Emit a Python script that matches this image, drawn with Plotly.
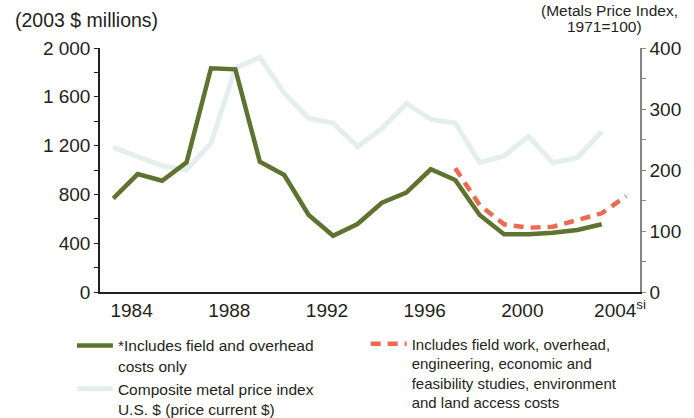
import plotly.graph_objects as go

# ---- data ----
years = list(range(1983, 2004))
field_overhead = [768, 967, 912, 1063, 1834, 1825, 1068, 959, 631, 461, 557,
                  732, 814, 1006, 918, 631, 473, 473, 486, 508, 555]
years_full = list(range(1997, 2005))
full_costs = [1014, 713, 555, 527, 535, 590, 645, 787]
metal_index = [237, 222, 207, 200, 244, 367, 385, 326, 285, 277, 238,
               268, 309, 283, 277, 212, 223, 255, 212, 220, 263]

x_tick_years = [1984, 1988, 1992, 1996, 2000, 2004]
x_tick_text = ["1984", "1988", "1992", "1996", "2000", "2004<sup>si</sup>"]
left_tick_vals = [0, 400, 800, 1200, 1600, 2000]
left_tick_text = ["0", "400", "800", "1 200", "1 600", "2 000"]
right_tick_vals = [0, 100, 200, 300, 400]

name_green = "*Includes field and overhead<br>costs only"
name_light = "Composite metal price index<br>U.S. $ (price current $)"
name_red = ("Includes field work, overhead,<br>engineering, economic and<br>"
            "feasibility studies, environment<br>and land access costs")

FONT = "Liberation Sans, Arial, sans-serif"
TXT = "#231f20"
GREEN = "#5f7330"
LIGHT = "#e3eeed"
RED = "#ec6a4e"

fig = go.Figure()
fig.add_trace(go.Scatter(x=years, y=metal_index, mode="lines", name=name_light,
                         line=dict(color=LIGHT, width=5), yaxis="y",
                         legend="legend", legendrank=2))
fig.add_trace(go.Scatter(x=years, y=field_overhead, mode="lines", name=name_green,
                         line=dict(color=GREEN, width=4.5), yaxis="y2",
                         legend="legend", legendrank=1))
fig.add_trace(go.Scatter(x=years_full, y=full_costs, mode="lines", name=name_red,
                         line=dict(color=RED, width=4.5, dash="10px,7px"),
                         yaxis="y2", legend="legend2"))

tick_offset = 0.25
fig.update_layout(
    width=694, height=418,
    margin=dict(l=100, r=54, t=48, b=126, autoexpand=False),
    paper_bgcolor="white", plot_bgcolor="white",
    font=dict(family=FONT, color=TXT, size=19),
    showlegend=True,
    xaxis=dict(range=[1982.455, 2004.568], showgrid=False, zeroline=False,
               showline=True, linecolor=TXT, linewidth=1.5,
               tickvals=[y - tick_offset for y in x_tick_years], ticktext=x_tick_text,
               ticks="", tickfont=dict(size=19, color=TXT)),
    yaxis=dict(range=[0, 400], side="right", showgrid=False, zeroline=False,
               showline=True, linecolor="#858585", linewidth=1.5,
               tickvals=right_tick_vals, ticks="outside", ticklen=4,
               tickcolor="#858585", tickwidth=1.2,
               minor=dict(dtick=50, ticks="outside", ticklen=4,
                          tickcolor="#858585", tickwidth=1.2),
               tickfont=dict(size=19, color=TXT)),
    yaxis2=dict(range=[0, 2000], side="left", overlaying="y", anchor="x",
                showgrid=False, zeroline=False,
                showline=True, linecolor=TXT, linewidth=1.5,
                tickvals=left_tick_vals, ticktext=left_tick_text,
                ticks="outside", ticklen=4, tickcolor=TXT, tickwidth=1.2,
                minor=dict(dtick=200, ticks="outside", ticklen=4,
                           tickcolor=TXT, tickwidth=1.2),
                tickfont=dict(size=19, color=TXT)),
    legend=dict(x=-0.052, y=-0.151, xanchor="left", yanchor="top",
                orientation="v", valign="top", itemwidth=36,
                font=dict(size=15.5, color=TXT), bgcolor="rgba(0,0,0,0)",
                tracegroupgap=0, traceorder="normal"),
    legend2=dict(x=0.492, y=-0.146, xanchor="left", yanchor="top",
                 orientation="v", valign="top", itemwidth=36,
                 font=dict(size=15, color=TXT), bgcolor="rgba(0,0,0,0)"),
    annotations=[
        dict(text="(2003 $ millions)", xref="paper", yref="paper",
             x=-0.161, y=1.113, xanchor="left", yanchor="middle",
             showarrow=False, font=dict(size=19.5, color=TXT)),
        dict(text="(Metals Price Index,", xref="paper", yref="paper",
             x=0.943, y=1.153, xanchor="center", yanchor="middle",
             showarrow=False, font=dict(size=15.5, color=TXT)),
        dict(text="1971=100)", xref="paper", yref="paper",
             x=0.935, y=1.088, xanchor="center", yanchor="middle",
             showarrow=False, font=dict(size=15.5, color=TXT)),
    ],
)

fig.write_html("out.html",
               config={"displayModeBar": False},
               post_script="document.body.style.margin='0';"
                           "document.body.style.overflow='hidden';")
